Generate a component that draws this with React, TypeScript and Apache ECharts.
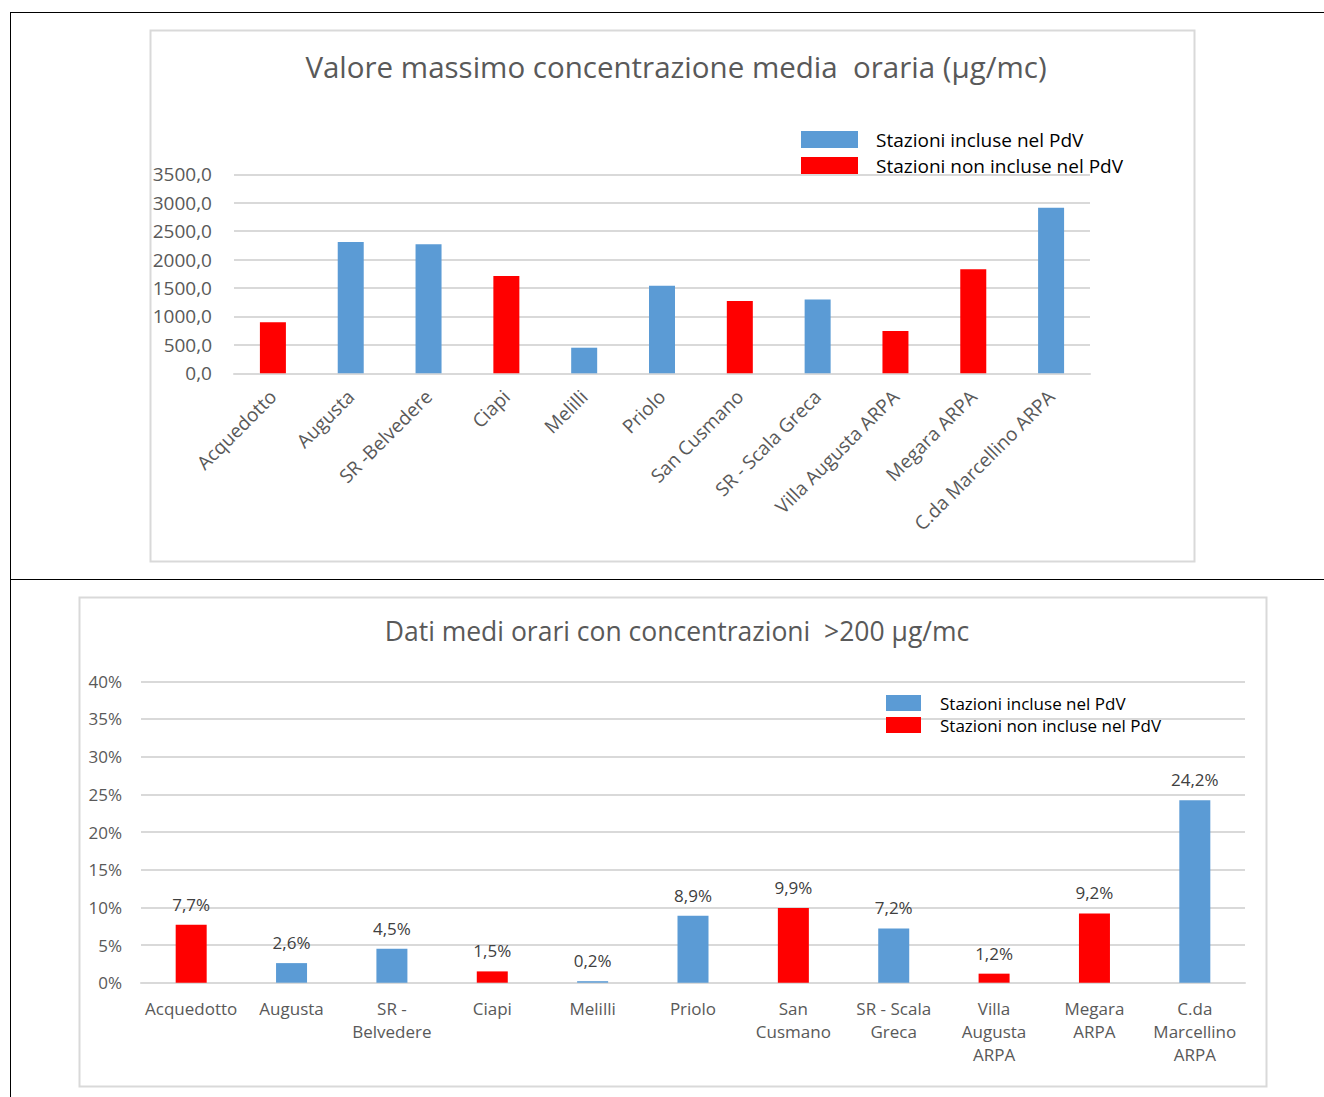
import React, { useEffect, useRef } from "react";
import * as echarts from "echarts";

const categoriesTop = ["Acquedotto", "Augusta", "SR -Belvedere", "Ciapi", "Melilli", "Priolo", "San Cusmano", "SR - Scala Greca", "Villa Augusta ARPA", "Megara ARPA", "C.da Marcellino ARPA"];
const categoriesBottom = ["Acquedotto", "Augusta", "SR -\nBelvedere", "Ciapi", "Melilli", "Priolo", "San\nCusmano", "SR - Scala\nGreca", "Villa\nAugusta\nARPA", "Megara\nARPA", "C.da\nMarcellino\nARPA"];
const included = [false, true, true, false, true, true, false, true, false, false, true];
const maxValues = [900, 2310, 2270, 1710, 450, 1540, 1270, 1300, 745, 1830, 2910];
const pctValues = [7.7, 2.6, 4.5, 1.5, 0.2, 8.9, 9.9, 7.2, 1.2, 9.2, 24.2];
const seriesNames = ["Stazioni incluse nel PdV", "Stazioni non incluse nel PdV"];
const titleTop = "Valore massimo concentrazione media  oraria (µg/mc)";
const titleBottom = "Dati medi orari con concentrazioni  >200 µg/mc";

const BLUE = "#5B9BD5";
const RED = "#FF0000";
const GRID = "#D9D9D9";
const TXT = "#595959";
const FONT = "'Open Sans', sans-serif";

export default function App() {
  const ref = useRef<HTMLDivElement>(null);
  useEffect(() => {
    const chart = echarts.init(ref.current!, null, { renderer: "svg" });
    const blueTop = maxValues.map((v, i) => (included[i] ? v : "-"));
    const redTop = maxValues.map((v, i) => (!included[i] ? v : "-"));
    const blueBot = pctValues.map((v, i) => (included[i] ? v : "-"));
    const redBot = pctValues.map((v, i) => (!included[i] ? v : "-"));
    const pctLabel = {
      show: true,
      position: "top",
      distance: 12,
      color: "#404040",
      fontFamily: FONT,
      fontSize: 17,
      formatter: (p: any) => p.value.toFixed(1).replace(".", ",") + "%",
    };
    chart.setOption({
      animation: false,
      textStyle: { fontFamily: FONT },
      title: [
        { text: titleTop, left: 671, textAlign: "center", top: 46, textStyle: { fontFamily: FONT, fontSize: 29.5, fontWeight: "normal", color: TXT } },
        { text: titleBottom, left: 672, textAlign: "center", top: 612, textStyle: { fontFamily: FONT, fontSize: 26.5, fontWeight: "normal", color: TXT } },
      ],
      legend: [
        {
          left: 796, top: 123.5, orient: "vertical", itemWidth: 57, itemHeight: 17, itemGap: 4,
          data: seriesNames, selectedMode: false, icon: "rect",
          textStyle: { fontFamily: FONT, fontSize: 19, color: "#000", padding: [0, 0, 0, 13], lineHeight: 22 },
        },
        {
          left: 881, top: 688, orient: "vertical", itemWidth: 35, itemHeight: 16, itemGap: 2,
          data: seriesNames, selectedMode: false, icon: "rect",
          textStyle: { fontFamily: FONT, fontSize: 17, color: "#000", padding: [0, 0, 0, 14], lineHeight: 20 },
        },
      ],
      grid: [
        { left: 234, width: 856, top: 174.3, height: 199, containLabel: false },
        { left: 141, width: 1104, top: 681.3, height: 301.4, containLabel: false },
      ],
      xAxis: [
        {
          type: "category", gridIndex: 0, data: categoriesTop,
          axisLine: { show: true, lineStyle: { color: GRID, width: 2 } },
          axisTick: { show: false },
          axisLabel: { rotate: 45, margin: 20, interval: 0, color: TXT, fontFamily: FONT, fontSize: 19 },
        },
        {
          type: "category", gridIndex: 1, data: categoriesBottom,
          axisLine: { show: true, lineStyle: { color: GRID, width: 2 } },
          axisTick: { show: false },
          axisLabel: { margin: 14, interval: 0, color: TXT, fontFamily: FONT, fontSize: 17, lineHeight: 23 },
        },
      ],
      yAxis: [
        {
          type: "value", gridIndex: 0, min: 0, max: 3500, interval: 500,
          axisLine: { show: false }, axisTick: { show: false },
          splitLine: { lineStyle: { color: GRID, width: 2 } },
          axisLabel: { margin: 22, color: TXT, fontFamily: FONT, fontSize: 19, formatter: (v: number) => v.toFixed(1).replace(".", ",") },
        },
        {
          type: "value", gridIndex: 1, min: 0, max: 40, interval: 5,
          axisLine: { show: false }, axisTick: { show: false },
          splitLine: { lineStyle: { color: GRID, width: 2 } },
          axisLabel: { margin: 19, color: TXT, fontFamily: FONT, fontSize: 17, formatter: "{value}%" },
        },
      ],
      series: [
        { name: seriesNames[0], type: "bar", xAxisIndex: 0, yAxisIndex: 0, stack: "a", barWidth: 26, data: blueTop, itemStyle: { color: BLUE } },
        { name: seriesNames[1], type: "bar", xAxisIndex: 0, yAxisIndex: 0, stack: "a", barWidth: 26, data: redTop, itemStyle: { color: RED } },
        { name: seriesNames[0], type: "bar", xAxisIndex: 1, yAxisIndex: 1, stack: "b", barWidth: 31, data: blueBot, itemStyle: { color: BLUE }, label: pctLabel },
        { name: seriesNames[1], type: "bar", xAxisIndex: 1, yAxisIndex: 1, stack: "b", barWidth: 31, data: redBot, itemStyle: { color: RED }, label: pctLabel },
      ],
      graphic: [
        { type: "line", silent: true, shape: { x1: 10, y1: 12.5, x2: 1324, y2: 12.5 }, style: { stroke: "#000", lineWidth: 1 } },
        { type: "line", silent: true, shape: { x1: 10.5, y1: 12, x2: 10.5, y2: 1097 }, style: { stroke: "#000", lineWidth: 1 } },
        { type: "line", silent: true, shape: { x1: 10, y1: 579.5, x2: 1324, y2: 579.5 }, style: { stroke: "#000", lineWidth: 1 } },
        { type: "rect", silent: true, shape: { x: 150.5, y: 30.5, width: 1044, height: 531 }, style: { fill: "none", stroke: GRID, lineWidth: 2 } },
        { type: "rect", silent: true, shape: { x: 79.5, y: 597.5, width: 1187, height: 489 }, style: { fill: "none", stroke: GRID, lineWidth: 2 } },
      ],
    });
    return () => chart.dispose();
  }, []);
  return <div ref={ref} style={{ position: "absolute", left: 0, top: 0, width: 1324, height: 1097, background: "#fff" }} />;
}
